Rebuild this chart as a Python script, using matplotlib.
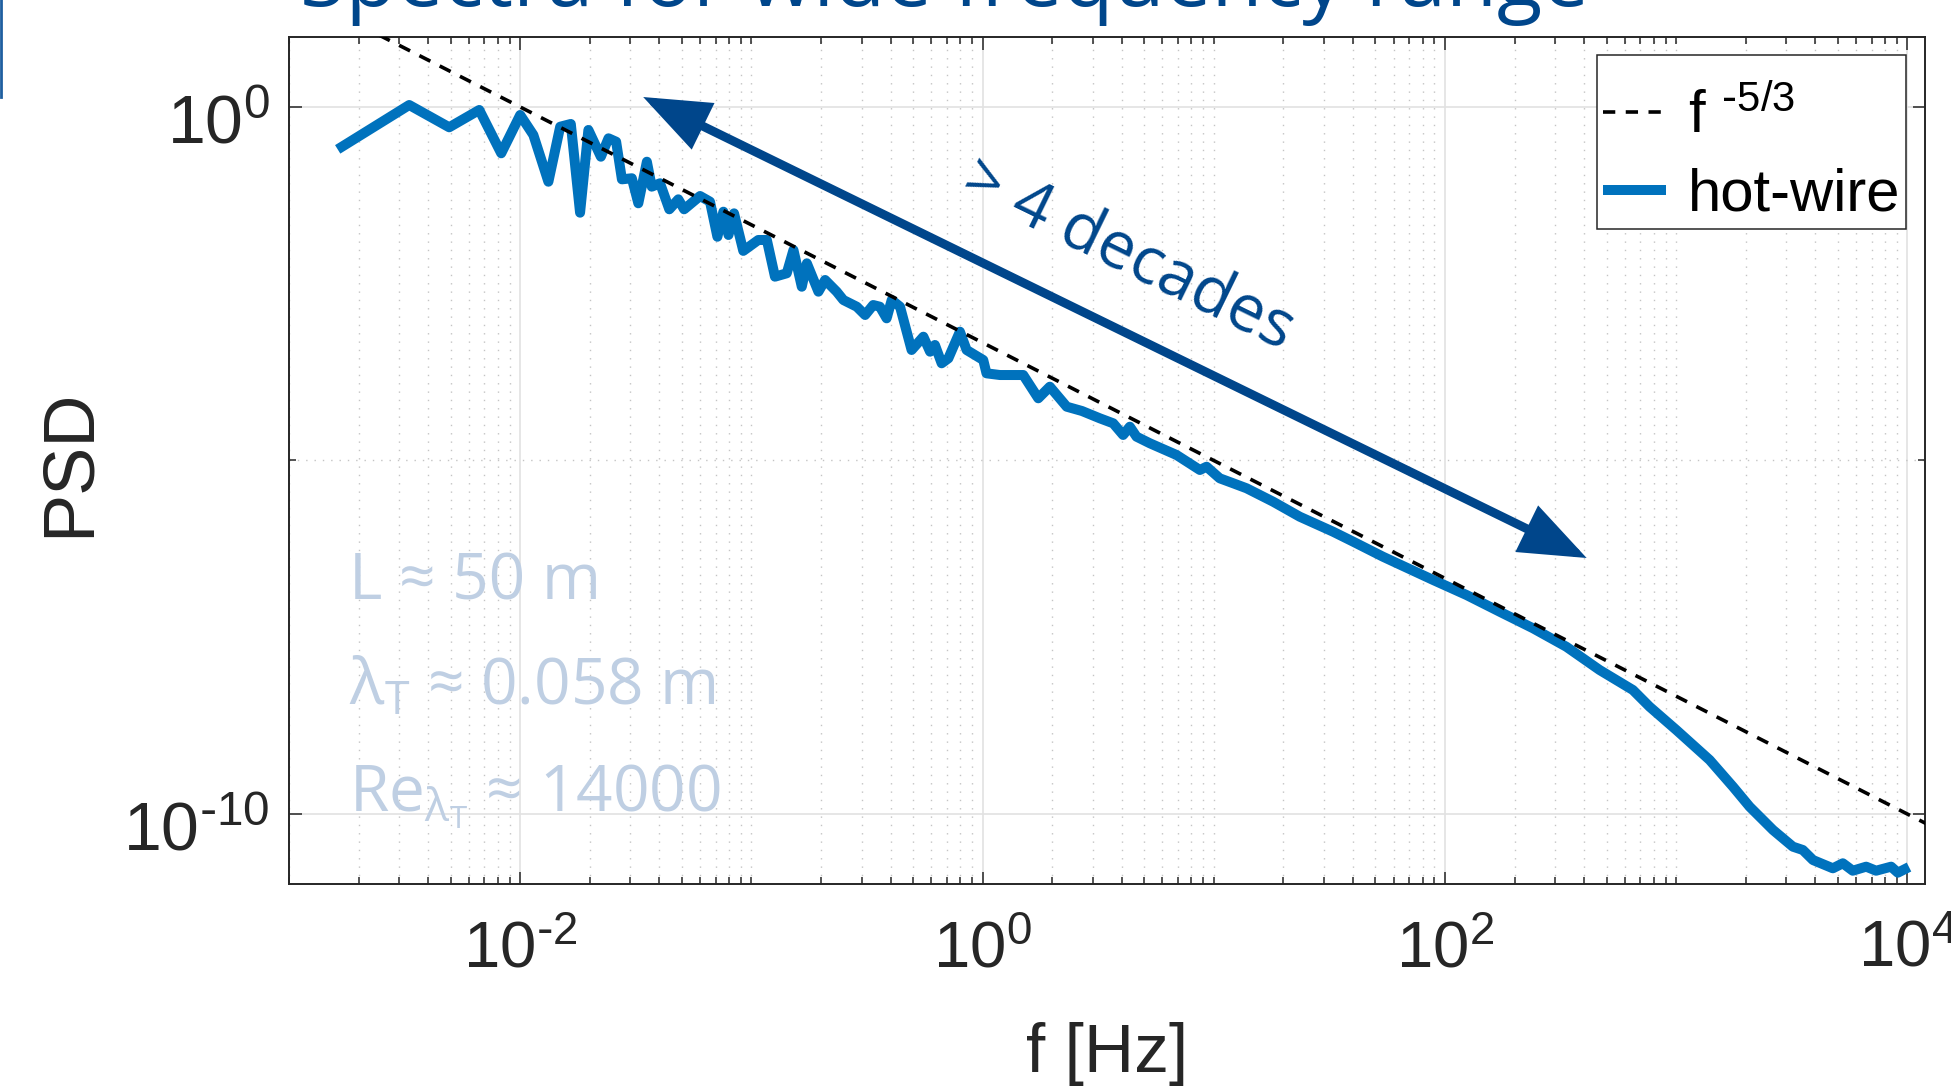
import numpy as np
import matplotlib.pyplot as plt
import matplotlib.transforms as mtransforms
from matplotlib.patches import FancyArrowPatch
from matplotlib.lines import Line2D

plt.rcParams['font.family'] = ['Liberation Sans', 'DejaVu Sans']
plt.rcParams['mathtext.default'] = 'regular'

# ------------------------------------------------------------
# hot-wire spectrum (log10 f [Hz], log10 PSD)
# ------------------------------------------------------------
log_f = [-2.771, -2.480, -2.307, -2.177, -2.082, -2.000, -1.943, -1.878,
         -1.827, -1.781, -1.741, -1.705, -1.651, -1.618, -1.585, -1.560,
         -1.517, -1.489, -1.452, -1.431, -1.395, -1.355, -1.316, -1.291,
         -1.222, -1.179, -1.147, -1.121, -1.099, -1.075, -1.035, -0.970,
         -0.933, -0.898, -0.847, -0.818, -0.782, -0.760, -0.710, -0.681,
         -0.631, -0.602, -0.544, -0.508, -0.473, -0.444, -0.415, -0.393,
         -0.357, -0.307, -0.256, -0.227, -0.206, -0.177, -0.148, -0.098,
         -0.069, 0.003, 0.017, 0.075, 0.176, 0.241, 0.291, 0.364,
         0.430, 0.507, 0.565, 0.608, 0.637, 0.666, 0.724, 0.839,
         0.940, 0.969, 1.026, 1.084, 1.142, 1.257, 1.372, 1.516,
         1.603, 1.732, 1.949, 2.093, 2.237, 2.381, 2.525, 2.669,
         2.813, 2.885, 3.001, 3.145, 3.246, 3.318, 3.419, 3.505,
         3.548, 3.592, 3.678, 3.721, 3.764, 3.822, 3.865, 3.930,
         3.959, 3.988]
log_psd = [-0.562, 0.028, -0.287, -0.042, -0.655, -0.113, -0.396, -1.057,
           -0.279, -0.240, -1.495, -0.325, -0.703, -0.443, -0.491, -1.023,
           -1.008, -1.362, -0.774, -1.127, -1.079, -1.447, -1.306, -1.447,
           -1.259, -1.339, -1.835, -1.481, -1.810, -1.504, -2.035, -1.881,
           -1.881, -2.400, -2.352, -2.023, -2.542, -2.211, -2.612, -2.447,
           -2.612, -2.730, -2.825, -2.942, -2.801, -2.825, -2.989, -2.730,
           -2.825, -3.437, -3.249, -3.461, -3.366, -3.625, -3.555, -3.178,
           -3.437, -3.579, -3.767, -3.791, -3.791, -4.120, -3.956, -4.239,
           -4.300, -4.403, -4.474, -4.639, -4.522, -4.663, -4.757, -4.922,
           -5.134, -5.088, -5.252, -5.322, -5.393, -5.583, -5.795, -6.007,
           -6.148, -6.361, -6.690, -6.902, -7.139, -7.373, -7.634, -7.963,
           -8.246, -8.482, -8.812, -9.236, -9.614, -9.897, -10.226, -10.462,
           -10.509, -10.651, -10.768, -10.697, -10.802, -10.745, -10.802, -10.745,
           -10.830, -10.782]

# f^(-5/3) reference line, anchored at (1e-2 Hz, 1)
ref_slope = -5 / 3
ref_anchor = (1e-2, 1.0)
ref_f = np.array([2e-3, 2e4])

x_major = [1e-2, 1e0, 1e2, 1e4]
x_labels = [r'$10^{\text{-}2}$', r'$10^{0}$', r'$10^{2}$', r'$10^{4}$']
y_major = [1e-10, 1e0]
y_labels = [r'$10^{\text{-}10}$', r'$10^{0}$']
y_minor = [1e-5]

notes = [r'L ≈ 50 m', r'λ$_{T}$ ≈ 0.058 m', r'Re$_{λ_T}$ ≈ 14000']

navy = '#00468B'
blue = '#0072BD'
pale = '#BFCFE3'

W, H = 1951, 1092
fig = plt.figure(figsize=(W / 100, H / 100), dpi=100)
ax_l, ax_r, ax_t, ax_b = 289, 1925, 37, 884
ax = fig.add_axes([ax_l / W, 1 - ax_b / H, (ax_r - ax_l) / W, (ax_b - ax_t) / H])

f = 10 ** np.array(log_f)
psd = 10 ** np.array(log_psd)
ref_psd = ref_anchor[1] * (ref_f / ref_anchor[0]) ** ref_slope

ax.plot(ref_f, ref_psd, color='black', lw=2.6, ls=(0, (3.4, 2.9)),
        label=r'f $^{\text{-}5/3}$', zorder=3)
ax.plot(f, psd, color=blue, lw=7.2, label='hot-wire', zorder=2,
        solid_joinstyle='round')

ax.set_xscale('log')
ax.set_yscale('log')

x_minor = [k * 10.0 ** e for e in range(-3, 5) for k in range(1, 10)
           if not (k == 1 and e % 2 == 0)]
ax.set_xticks(x_major)
ax.set_xticklabels(x_labels)
ax.set_xticks(x_minor, minor=True)
ax.set_yticks(y_major)
ax.set_yticklabels(y_labels)
ax.set_yticks(y_minor, minor=True)
ax.set_xlim(1e-3, 10 ** 4.0765)
ax.set_ylim(10 ** -10.99, 10 ** 0.99)

ax.tick_params(which='both', direction='in', top=True, right=True,
               color='#262626', width=1.1)
ax.tick_params(which='major', length=9)
ax.tick_params(which='minor', length=5, labelbottom=False, labelleft=False)
ax.tick_params(axis='x', which='major', labelsize=47, pad=26, labelcolor='#262626')
ax.tick_params(axis='y', which='major', labelsize=49, pad=14, labelcolor='#262626')

# y tick labels sit a little below their ticks in the original
shift = mtransforms.ScaledTranslation(0, -8 / 72, fig.dpi_scale_trans)
for lab in ax.get_yticklabels():
    lab.set_transform(lab.get_transform() + shift)

ax.grid(True, which='major', color='#E2E2E2', lw=1.2, ls='-')
ax.grid(True, which='minor', color='#C4C4C4', lw=1.0, ls=(0, (1, 5)))
ax.set_axisbelow(True)
for s in ax.spines.values():
    s.set_color('#262626')
    s.set_linewidth(1.4)

ax.set_xlabel('f [Hz]', fontsize=50, color='#262626')
ax.set_ylabel('PSD', fontsize=52, color='#262626')
ax.xaxis.set_label_coords(0.5, (ax_b - 1022) / (ax_b - ax_t))
ax.yaxis.set_label_coords((104 - ax_l) / (ax_r - ax_l), 0.497)

leg = ax.legend(loc='upper right', fontsize=43, frameon=True, fancybox=False,
                edgecolor='#262626', framealpha=1, borderaxespad=0,
                bbox_to_anchor=((1906 - ax_l) / (ax_r - ax_l), (ax_b - 55) / (ax_b - ax_t)),
                handlelength=1.05, handletextpad=0.36, labelspacing=0.38,
                borderpad=0.1, title=' ', title_fontsize=2)
leg.get_frame().set_linewidth(1.1)
for line in leg.get_lines():
    line.set_solid_capstyle('butt')

# parameter notes
note_y = [600, 705, 812]
for txt, yb in zip(notes, note_y):
    ax.text((349 - ax_l) / (ax_r - ax_l), (ax_b - yb) / (ax_b - ax_t), txt,
            transform=ax.transAxes, fontsize=46, color=pale, family='Open Sans',
            ha='left', va='baseline')

# "> 4 decades" arrow
arrow = FancyArrowPatch((10 ** -1.468, 10 ** 0.141), (10 ** 2.613, 10 ** -6.379),
                        arrowstyle='<|-|>,head_length=36,head_width=14',
                        mutation_scale=1, color=navy, lw=6.4, shrinkA=0, shrinkB=0,
                        joinstyle='miter', zorder=5)
ax.add_patch(arrow)
ax.text(10 ** 0.594, 10 ** -2.334, '> 4 decades', fontsize=47, color=navy,
        family='Open Sans', rotation=-26, rotation_mode='anchor',
        ha='center', va='baseline', zorder=5)

# slide title, cut by the top edge
fig.text(300 / W, 1 - 6 / H, 'Spectra for wide frequency range', fontsize=60,
         color=navy, family='Open Sans', ha='left', va='baseline')
fig.add_artist(Line2D([1 / W, 1 / W], [1, 1 - 97 / H], color='#1F5FA0', lw=2.0))

fig.savefig('out.png', dpi=100)
